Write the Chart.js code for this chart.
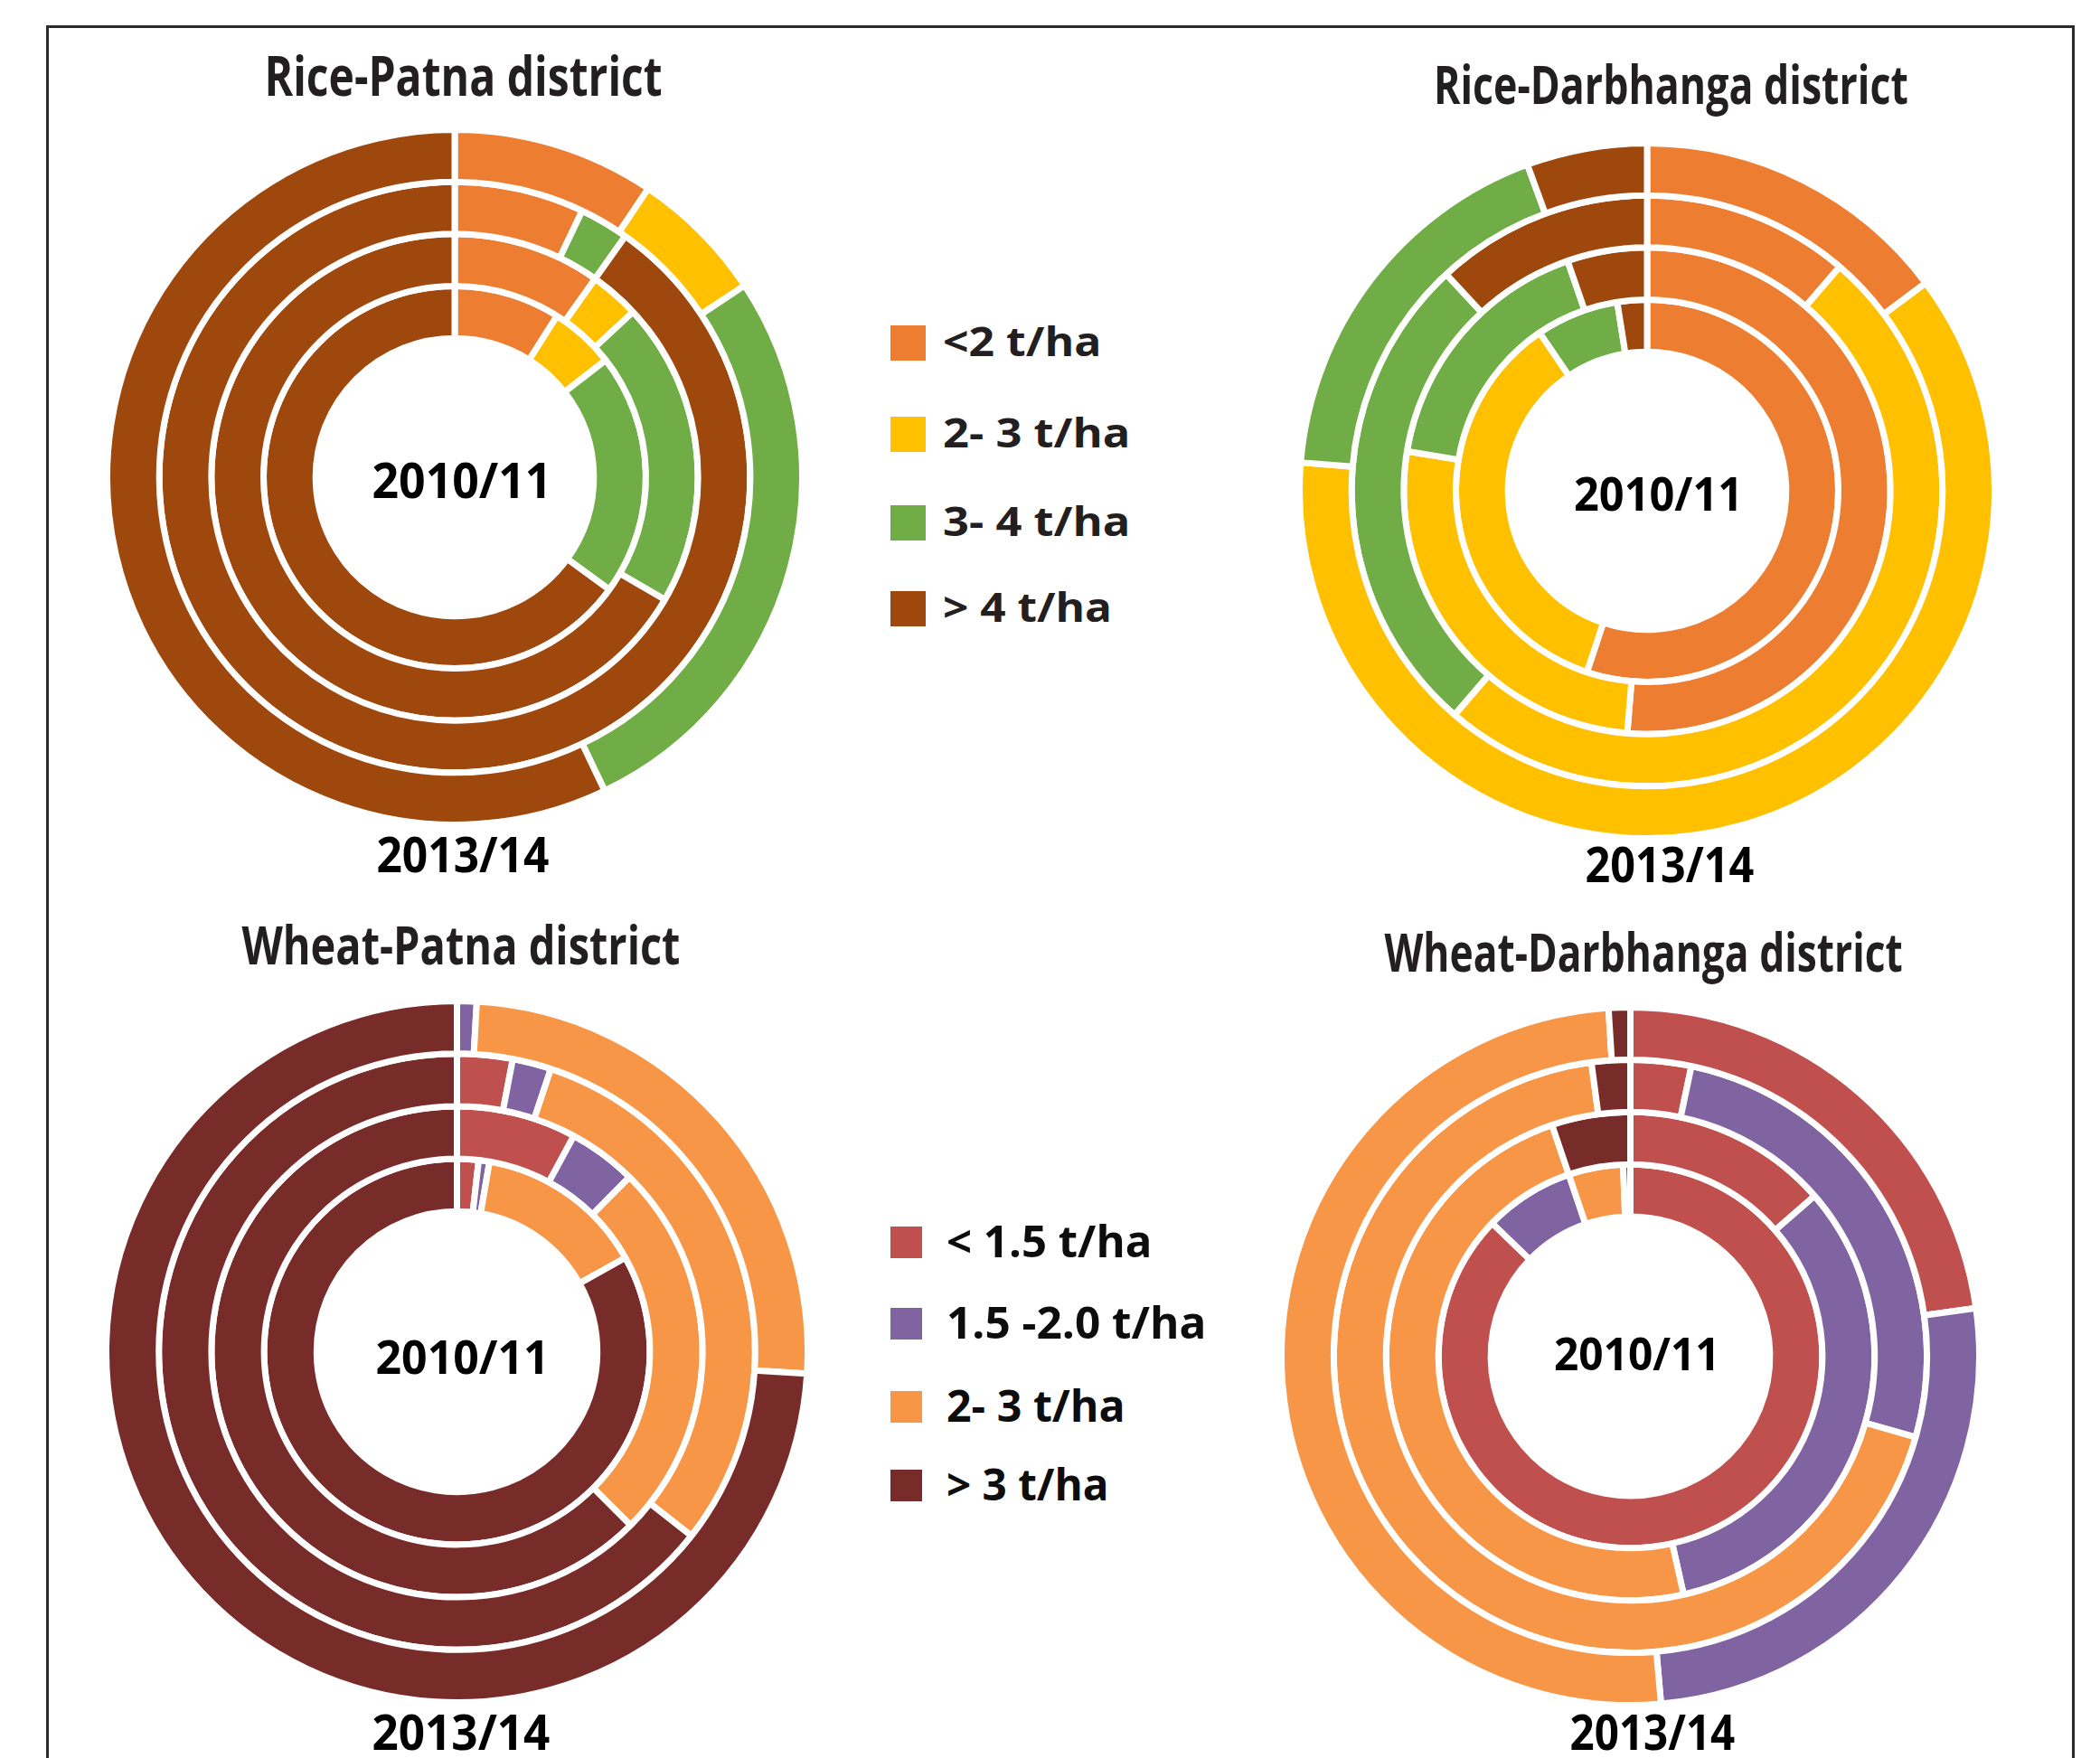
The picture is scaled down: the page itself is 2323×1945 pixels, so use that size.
<!DOCTYPE html>
<html>
<head>
<meta charset="utf-8">
<script src="https://cdn.jsdelivr.net/npm/chart.js@4.4.0/dist/chart.umd.min.js"></script>
<style>
  body { margin: 0; background: #fff; width: 2323px; height: 1945px; position: relative; overflow: hidden; font-family: "Open Sans", sans-serif; }
  #frame { position: absolute; left: 51px; top: 28px; width: 2244px; height: 2100px; border: 3px solid #2b2b2b; box-sizing: border-box; }
  canvas { position: absolute; }
  .lbl { position: absolute; white-space: nowrap; font-weight: 700; line-height: 1; }
  .key { position: absolute; }
</style>
</head>
<body>
<div id="frame"></div>
<canvas id="ricePatna"></canvas>
<canvas id="riceDarbhanga"></canvas>
<canvas id="wheatPatna"></canvas>
<canvas id="wheatDarbhanga"></canvas>
<script>
// rings from inside out
const years = ['2010/11', '2011/12', '2012/13', '2013/14'];

const riceClasses = ['<2 t/ha', '2- 3 t/ha', '3- 4 t/ha', '> 4 t/ha'];
const wheatClasses = ['< 1.5 t/ha', '1.5 -2.0 t/ha', '2- 3 t/ha', '> 3 t/ha'];

const riceColors = ['#ED7D31', '#FFC000', '#70AD47', '#9E480E'];
const wheatColors = ['#C0504D', '#8064A2', '#F79646', '#772C2A'];

// share of area (%) in each yield class, one row per year
const ricePatna = [
  [9.0, 5.5, 20.5, 65.0],
  [9.8, 3.3, 20.3, 66.6],
  [7.1, 0, 2.7, 90.2],
  [9.4, 6.3, 27.2, 57.1]
];
const riceDarbhanga = [
  [55.1, 35.4, 7.0, 2.5],
  [51.3, 26.3, 17.1, 5.3],
  [11.3, 50.0, 26.8, 11.9],
  [14.8, 61.5, 18.1, 5.6]
];
const wheatPatna = [
  [1.8, 0.9, 14.2, 83.1],
  [7.9, 4.5, 25.1, 62.5],
  [3.0, 2.1, 30.5, 64.4],
  [0, 0.9, 25.1, 74.0]
];
const wheatDarbhanga = [
  [87.2, 7.6, 4.6, 0.6],
  [13.6, 32.9, 48.3, 5.2],
  [3.3, 26.1, 68.5, 2.1],
  [22.8, 25.8, 50.4, 1.0]
];

const gap = 7;

function ringChart(id, rows, classes, colors, cx, cy, r) {
  const cv = document.getElementById(id);
  const size = Math.round(2 * r + gap);
  cv.width = size;
  cv.height = size;
  cv.style.left = (cx - size / 2) + 'px';
  cv.style.top = (cy - size / 2) + 'px';

  // chart.js puts the first dataset on the outside
  const sets = rows.map((row, i) => ({
    label: years[i],
    data: row,
    backgroundColor: colors,
    borderColor: '#ffffff',
    borderWidth: gap
  })).reverse();

  new Chart(cv, {
    type: 'doughnut',
    data: { labels: classes, datasets: sets },
    options: {
      responsive: false,
      animation: false,
      cutout: '40%',
      layout: { padding: 0 },
      plugins: { legend: { display: false }, tooltip: { enabled: false } }
    }
  });
}

ringChart('ricePatna', ricePatna, riceClasses, riceColors, 503, 528, 384.5);
ringChart('riceDarbhanga', riceDarbhanga, riceClasses, riceColors, 1822, 543, 384.5);
ringChart('wheatPatna', wheatPatna, wheatClasses, wheatColors, 505, 1495, 388);
ringChart('wheatDarbhanga', wheatDarbhanga, wheatClasses, wheatColors, 1803, 1500, 386);

// text squeezed to the width it has in the figure
function addLabel(text, x, y, w, cap, color, left) {
  const el = document.createElement('div');
  el.className = 'lbl';
  el.textContent = text;
  const fs = cap / 0.714;
  el.style.fontSize = fs.toFixed(1) + 'px';
  el.style.color = color;
  document.body.appendChild(el);
  const natural = el.offsetWidth;
  const sx = w / natural;
  el.style.top = (y - 0.531 * fs) + 'px';
  if (left) {
    el.style.left = x + 'px';
    el.style.transformOrigin = 'left center';
  } else {
    el.style.left = (x - natural / 2) + 'px';
    el.style.transformOrigin = 'center center';
  }
  el.style.transform = 'scaleX(' + sx.toFixed(3) + ')';
}

addLabel('Rice-Patna district', 512, 85, 440, 43, '#231F20');
addLabel('Rice-Darbhanga district', 1848, 94, 525, 42, '#231F20');
addLabel('Wheat-Patna district', 510, 1046, 485, 42, '#231F20');
addLabel('Wheat-Darbhanga district', 1818, 1054, 573, 42, '#231F20');

addLabel(years[0], 511, 532, 199, 39, '#000');
addLabel(years[0], 1834, 548, 187, 37, '#000');
addLabel(years[0], 511, 1503, 192, 37, '#000');
addLabel(years[0], 1811, 1499, 184, 36, '#000');

addLabel(years[3], 512, 946, 191, 39, '#000');
addLabel(years[3], 1847, 957, 187, 39, '#000');
addLabel(years[3], 510, 1917, 197, 39, '#000');
addLabel(years[3], 1828, 1917, 183, 39, '#000');

function legend(classes, colors, ys, widths, box, textX, cap, color) {
  classes.forEach((c, i) => {
    const k = document.createElement('div');
    k.className = 'key';
    k.style.left = '985px';
    k.style.top = (ys[i] - box / 2) + 'px';
    k.style.width = box + 'px';
    k.style.height = box + 'px';
    k.style.background = colors[i];
    document.body.appendChild(k);
    addLabel(c, textX, ys[i], widths[i], cap, color, true);
  });
}

legend(riceClasses, riceColors, [379, 480, 578, 673], [175, 207, 207, 187], 39, 1043, 32, '#231F20');
legend(wheatClasses, wheatColors, [1374, 1464, 1556, 1643], [227, 287, 198, 180], 35, 1047, 34, '#0D0D0D');
</script>
</body>
</html>
